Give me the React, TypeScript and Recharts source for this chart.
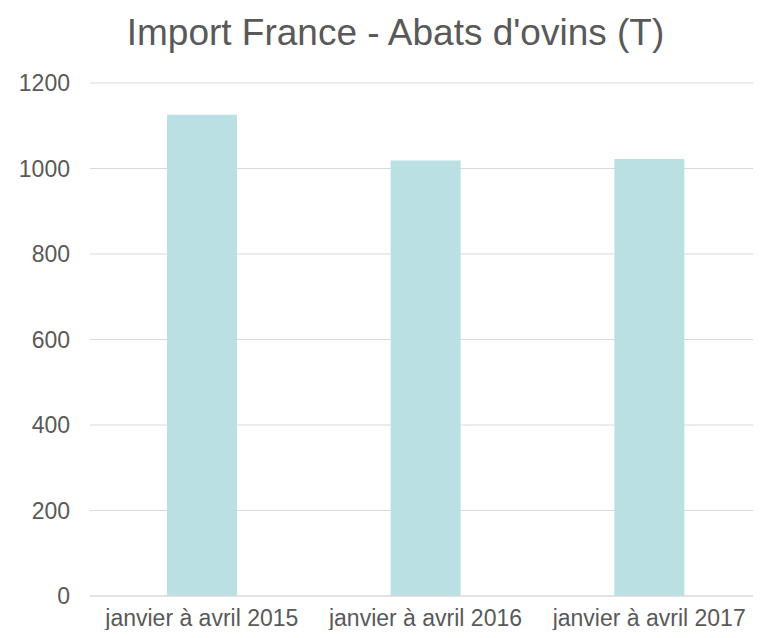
import { BarChart, Bar, XAxis, YAxis, CartesianGrid } from "recharts";

const periods = ["janvier à avril 2015", "janvier à avril 2016", "janvier à avril 2017"];
const tonnes = [1126, 1019, 1022];
const yTicks = [0, 200, 400, 600, 800, 1000, 1200];

const chartData = periods.map((period, i) => ({ period, value: tonnes[i] }));

const font = "'Liberation Sans', Arial, sans-serif";
const grey = "#595959";

export default function App() {
  return (
    <div style={{ position: "relative", width: 761, height: 638, margin: -8, background: "#fff" }}>
      <div
        style={{
          position: "absolute",
          top: 12,
          left: 0,
          width: 791,
          textAlign: "center",
          fontFamily: font,
          fontSize: 37,
          color: grey,
          whiteSpace: "nowrap",
        }}
      >
        Import France - Abats d'ovins (T)
      </div>
      <BarChart
        width={761}
        height={638}
        data={chartData}
        margin={{ top: 83, right: 0, left: 8, bottom: 0 }}
      >
        <CartesianGrid vertical={false} stroke="#d9d9d9" />
        <XAxis
          dataKey="period"
          height={42}
          tickLine={false}
          axisLine={{ stroke: "#d9d9d9" }}
          tickMargin={8}
          interval={0}
          tick={{ fill: grey, fontSize: 23, fontFamily: font }}
        />
        <YAxis
          width={82}
          domain={[0, 1200]}
          ticks={yTicks}
          tickLine={false}
          axisLine={false}
          tickMargin={14}
          tick={{ fill: grey, fontSize: 23, fontFamily: font }}
        />
        <Bar dataKey="value" fill="#bae0e3" barSize={70} isAnimationActive={false} />
      </BarChart>
    </div>
  );
}
